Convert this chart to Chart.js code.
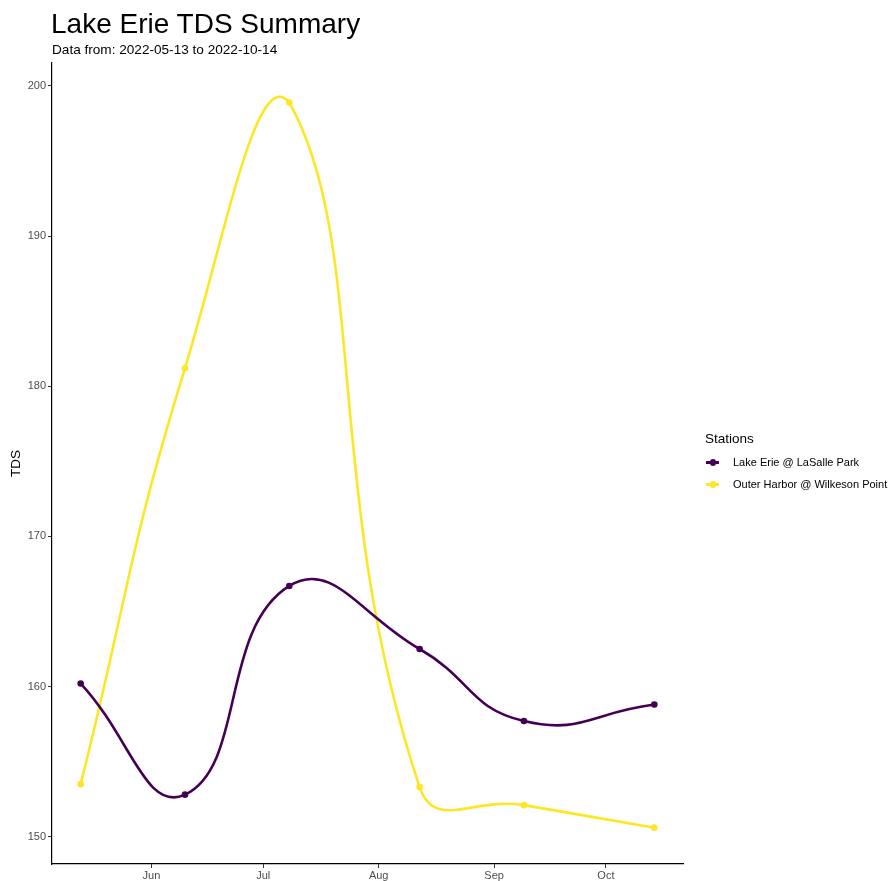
<!DOCTYPE html>
<html>
<head>
<meta charset="utf-8">
<script src="https://cdn.jsdelivr.net/npm/chart.js@4/dist/chart.umd.min.js"></script>
<style>
  html, body { margin: 0; padding: 0; background: #fff; }
  #wrap { position: relative; width: 892px; height: 881px; font-family: "Liberation Sans", Arial, Helvetica, sans-serif; }
  #c { position: absolute; left: 0; top: 0; }
  .title { position: absolute; left: 51px; top: 8px; font-size: 28px; color: #000; white-space: nowrap; }
  .subtitle { position: absolute; left: 52px; top: 42px; font-size: 13.6px; color: #000; white-space: nowrap; }
  .legend { position: absolute; left: 705px; top: 431px; color: #000; }
  .legend .lt { font-size: 13.5px; margin-bottom: 5px; }
  .legend .item { position: relative; height: 22px; font-size: 11px; line-height: 22px; padding-left: 28px; white-space: nowrap; }
  .legend .item .ln { position: absolute; left: 1px; top: 10px; width: 13px; height: 2.5px; }
  .legend .item .dt { position: absolute; left: 4.5px; top: 8px; width: 6.5px; height: 6.5px; border-radius: 50%; }
</style>
</head>
<body>
<div id="wrap">
  <canvas id="c" width="892" height="881"></canvas>
  <div class="title">Lake Erie TDS Summary</div>
  <div class="subtitle">Data from: 2022-05-13 to 2022-10-14</div>
  <div class="legend" id="legend"></div>
</div>
<script>
// ---- Data ----
const sampleDates = ["2022-05-13", "2022-06-10", "2022-07-08", "2022-08-12", "2022-09-09", "2022-10-14"];
const stationNames = ["Lake Erie @ LaSalle Park", "Outer Harbor @ Wilkeson Point"];
const lasalleTDS = [160.2, 152.8, 166.7, 162.5, 157.7, 158.8];
const wilkesonTDS = [153.5, 181.2, 198.9, 153.3, 152.1, 150.6];
const stationColors = ["#440154", "#FDE725"];
const monthTickDates = ["2022-06-01", "2022-07-01", "2022-08-01", "2022-09-01", "2022-10-01"];
const monthTickLabels = ["Jun", "Jul", "Aug", "Sep", "Oct"];
const yTickValues = [150, 160, 170, 180, 190, 200];
const yAxisLimits = [148.18, 201.53];

const toMs = s => Date.parse(s + "T00:00:00Z");
const xs = sampleDates.map(toMs);
const tickMs = monthTickDates.map(toMs);
const xSpan = xs[xs.length - 1] - xs[0];
const xMin = xs[0] - 0.05 * xSpan;
const xMax = xs[xs.length - 1] + 0.05 * xSpan;

const seriesValues = [lasalleTDS, wilkesonTDS];
const datasets = stationNames.map((name, i) => ({
  label: name,
  data: xs.map((x, j) => ({ x: x, y: seriesValues[i][j] })),
  borderColor: stationColors[i],
  backgroundColor: stationColors[i],
  pointBackgroundColor: stationColors[i],
  pointBorderWidth: 0,
  pointRadius: 3.3,
  borderWidth: 2.6,
  tension: 0.48,
  fill: false
}));

// HTML legend
const lg = document.getElementById('legend');
lg.innerHTML = '<div class="lt">Stations</div>' + stationNames.map((n, i) =>
  '<div class="item"><span class="ln" style="background:' + stationColors[i] + '"></span>' +
  '<span class="dt" style="background:' + stationColors[i] + '"></span>' + n + '</div>').join('');

new Chart(document.getElementById('c'), {
  type: 'line',
  data: { datasets: datasets },
  options: {
    responsive: false,
    animation: false,
    devicePixelRatio: 1,
    layout: { padding: { left: 0, top: 63, right: 209, bottom: 0 } },
    plugins: { legend: { display: false }, tooltip: { enabled: false }, title: { display: false } },
    scales: {
      x: {
        type: 'linear',
        min: xMin, max: xMax,
        afterBuildTicks: s => { s.ticks = tickMs.map(v => ({ value: v })); },
        afterFit: s => { s.height = 17; },
        ticks: {
          autoSkip: false, maxRotation: 0, padding: 1,
          color: '#4d4d4d',
          font: { family: '"Liberation Sans", Arial, sans-serif', size: 11 },
          callback: (v) => { const k = tickMs.indexOf(v); return k >= 0 ? monthTickLabels[k] : ''; }
        },
        grid: { drawOnChartArea: false, drawTicks: true, tickLength: 4, color: '#333333', lineWidth: 1 },
        border: { display: true, color: '#000000', width: 1.2 }
      },
      y: {
        type: 'linear',
        min: yAxisLimits[0], max: yAxisLimits[1],
        afterBuildTicks: s => { s.ticks = yTickValues.map(v => ({ value: v })); },
        afterFit: s => { s.width = 52; },
        ticks: {
          padding: 2, color: '#4d4d4d',
          font: { family: '"Liberation Sans", Arial, sans-serif', size: 11 }
        },
        title: {
          display: true, text: 'TDS', color: '#000',
          font: { family: '"Liberation Sans", Arial, sans-serif', size: 13.5 },
          padding: { top: 8, bottom: 4 }
        },
        grid: { drawOnChartArea: false, drawTicks: true, tickLength: 4, color: '#333333', lineWidth: 1 },
        border: { display: true, color: '#000000', width: 1.2 }
      }
    }
  }
});
</script>
</body>
</html>
